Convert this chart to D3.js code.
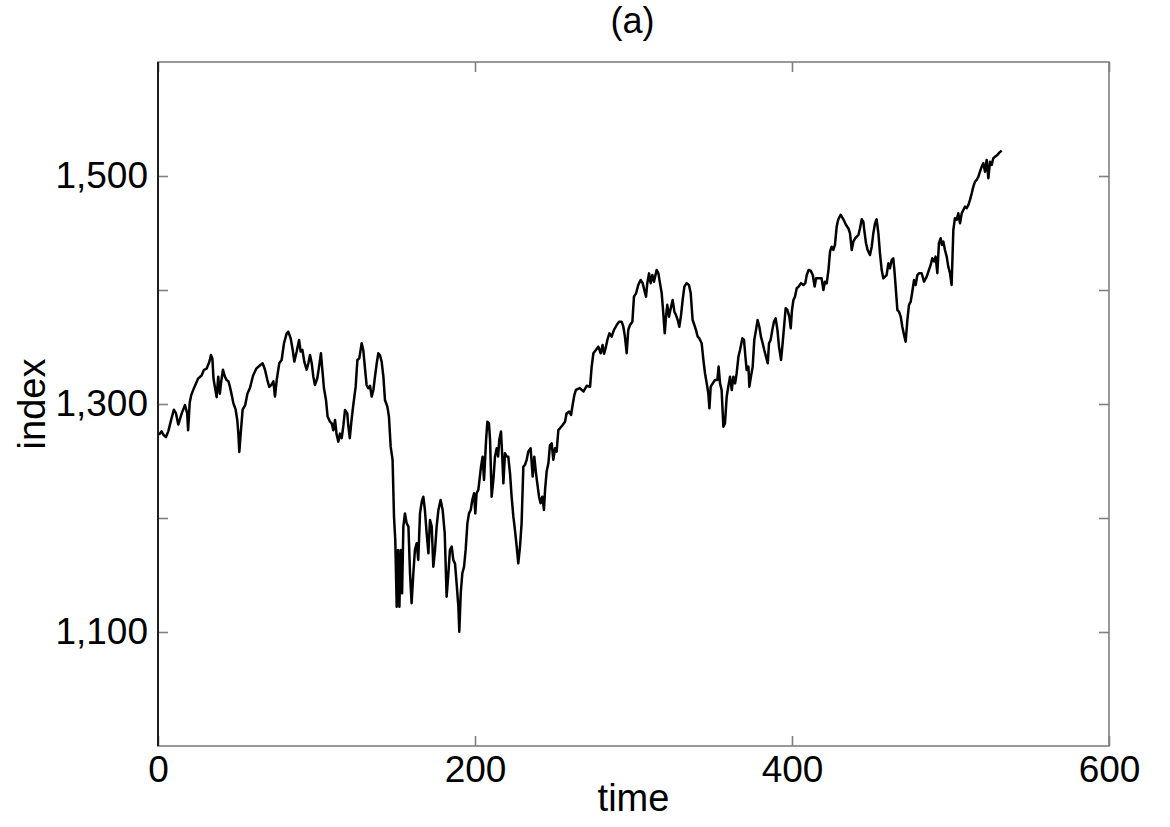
<!DOCTYPE html>
<html>
<head>
<meta charset="utf-8">
<script src="https://cdn.jsdelivr.net/npm/d3@7"></script>
<style>
  html, body { margin: 0; padding: 0; background: #fff; }
  svg { display: block; font-family: "Liberation Sans", Arial, sans-serif; }
</style>
</head>
<body>
<svg id="chart" width="1170" height="827"></svg>
<script>
// ---- data ----
const time = [
  0.6,2.3,3.4,5,6.5,8,10,11.3,12.8,15,17,18.4,19,20,21,23,25.4,27.5,29,30.7,32.4,33.4,34.3,35,36,37,38,39,40,41,42.2,43.3,44.4,45.4,46.5,47.5,49,50,50.7,51.3,52,53.4,55,56.4,58,60,62,64.4,
  66,67.5,69,70.2,71.7,72.8,73.8,74.9,76.5,78,79.5,81.2,82.2,83.7,85,86,87.5,89,90,91.1,92.3,93.8,94.9,95.9,97,98,99,100.5,101.8,102.8,103.7,104.7,106,107,108.5,109.6,110.6,111.7,112.7,113.8,114.8,115.9,117,118,119.4,120,121,122,123.2,124.7,125.8,127,128.5,129.5,130.6,131.6,132.7,133.8,134.8,135.9,136.9,138,139,140,
  141.1,142.2,143.2,144.7,145.7,146.8,147.4,148,148.9,149.7,150.6,151.4,152.3,153.1,154,154.8,155.8,156.9,158,159,160,161.1,162.1,163.2,164.2,165.3,166.4,167.4,168.4,169.5,170.6,171.6,172.7,173.7,174.8,175.8,176.9,178.3,179.6,180.9,182.1,183.2,184.2,185.3,186.3,187.4,188.4,189.5,190.1,191,192,193.1,194.1,195.2,196.2,197.3,198.3,199.4,200.2,201,202.1,
  203.8,204.8,205.7,207,207.8,208.8,209.5,210.5,211.6,212.6,213.7,214.6,215.3,216.4,217.2,217.9,218.9,220,221,222.1,223.1,224.2,225.2,226.3,227.3,228.4,229.4,230.5,231.5,232.6,233.6,235.1,236.4,237.4,238.5,239.3,240.4,241.4,242.5,243.5,244.2,245.2,246.3,247.3,248.4,249.4,250.5,251.5,252.6,253.6,255.3,256.8,257.8,259.5,260.6,261.6,262.7,263.7,266,268.5,270.5,
  272.6,273.6,274.7,276.3,277.8,279.3,280.5,281.4,282.4,283.5,284.8,286.2,287.7,289.4,290.9,292.5,293.6,294.6,295.7,296.7,297.8,299.3,300.3,301.6,303,304.5,305.8,306.8,307.9,308.7,309.8,310.8,311.9,312.9,314.6,315.7,316.7,317.8,318.8,319.7,320.5,321.3,322.4,323.5,324.7,325.8,326.8,327.9,328.9,330,331,332.1,333.5,335,336.1,337.3,338.4,339.4,340.5,341.5,
  343,344.1,345.1,346.2,347.2,347.9,348.7,350,351.4,352.9,353.7,354.6,355.6,356.7,357.7,358.8,359.8,360.9,362,363,364.1,365.1,366.2,367.2,368.7,369.7,370.8,371.4,372.5,373.1,374.1,375.2,376.2,377.3,378.3,379.4,380.4,381.5,382.5,383.6,384.7,385.5,386.5,387.6,388.6,389.7,390.8,391.8,393.1,394.1,395,396,397.1,398.3,399.2,400,400.9,401.9,403,404.2,405.7,407.2,408.4,409.3,410.5,
  411.8,413.1,414.3,415.2,416.6,418.7,419.8,420.8,421.9,423,424,425,426.1,427.1,428.2,429.2,430.7,432.4,434.1,435.6,436.6,437.7,438.7,439.8,440.8,441.9,442.9,444,445,445.6,446.7,447.7,449.2,450.3,451.3,452.4,453.4,454.5,455.5,456.6,457.6,458.7,459.7,460.8,461.8,462.9,463.9,464.6,465.4,466.5,467.5,468.6,469.6,470.7,471.7,472.8,473.8,474.9,475.9,477,478,479.1,480.1,
  481.8,483.3,485,486.4,487.5,488.5,489.6,490.6,491.7,492.7,493.8,494.6,495.5,496.5,497.6,498.6,499.7,500.7,501.8,502.8,503.9,504.9,506,507.1,508.1,509.2,510.2,511.3,512.3,513.4,514.4,515.5,516.5,517.6,518.6,519.7,520.7,521.8,522.8,523.9,524.9,526,527,528.1,529.6,530.8,532.3
];
const index = [
  1273,1276,1273,1271,1276,1284.5,1295,1292,1282,1292,1299,1292,1277,1301,1308,1315,1322.5,1325,1330,1331,1337,1343,1340,1322.5,1314,1306,1324,1309,1321,1330,1324,1321,1320,1315,1308,1301,1295,1286,1274,1258,1271,1295,1299,1309,1314,1325,1331,1334,
  1335.7,1330,1321,1315,1317,1320,1306.5,1321,1335.7,1338.6,1353.3,1362,1363.5,1357.6,1347.4,1337.2,1346,1356.2,1346,1347.5,1337.2,1330,1336,1343,1335.7,1324,1316.7,1322.6,1334.3,1344.5,1330,1313.8,1303.5,1289,1284.5,1283,1277,1286,1273,1267,1274,1270,1281.6,1294.8,1292,1281.6,1270,1284.5,1299,1315,1338.6,1340,1353.3,1347.4,1331.3,1316.7,1313.8,1316,1306.5,1312.3,1324,1335.7,1344.5,1343,
  1337.2,1324,1303.5,1297.7,1289,1262.6,1256.7,1251,1201,1180.7,1122.2,1172,1122.2,1172,1134,1192.4,1204,1195.3,1192.4,1151.5,1125.2,1151.5,1172,1177.8,1163.2,1204,1214.3,1218.7,1207,1186.6,1169,1198.3,1192.4,1157.3,1172,1192.4,1207,1215.8,1207,1186.6,1131,1151.5,1172,1175,1163.2,1160,1142.7,1122.2,1100.3,1134,1151.5,1157.3,1172,1195.3,1204,1207,1215.8,1221.7,1204,1221.7,1224.6,
  1245,1253.8,1233.4,1268.4,1284.5,1283,1268.4,1218.7,1233.4,1253.8,1261.1,1254,1268.4,1275.8,1253.8,1230.4,1256.7,1254,1253.8,1239.2,1218.7,1201.2,1189.5,1175,1160.2,1175,1195.3,1245,1246.5,1251,1258.2,1261.1,1236.3,1253.8,1239.2,1230.4,1218.7,1213,1218.7,1207,1224.6,1240.7,1248,1264,1265.5,1251,1261.1,1258.2,1277.2,1278.7,1281.6,1284.5,1291.8,1293.3,1290.4,1299.1,1308,1312.3,1314,1311,1316,
  1315.2,1332.7,1344.5,1347.4,1350.3,1344.5,1351.8,1344,1348.9,1356.2,1362,1359.1,1365,1369.3,1372.2,1372.2,1367.8,1359.1,1344.5,1365,1369.3,1372.2,1394.2,1397.1,1404.4,1408.8,1406,1400,1394.2,1406,1414.6,1406,1413.2,1407.3,1417.6,1414.6,1406,1397.1,1379.5,1362,1376.6,1387,1376.6,1384,1391.2,1381,1378,1373.7,1367.8,1378,1391.2,1403,1406,1404.4,1397.1,1373.7,1369.3,1365,1359.1,1357.6,
  1353.3,1338.6,1327,1318.1,1309.4,1296.2,1315.2,1318.1,1321,1321,1332.8,1318.1,1312.3,1280.1,1283,1306.4,1315.2,1324,1312.3,1324,1318.1,1327,1341.5,1347.4,1357.6,1356.2,1338.6,1329.8,1332.8,1315.2,1324,1332.8,1356.2,1365,1373.7,1367.8,1359.1,1353.3,1347.4,1341.5,1335.7,1353.3,1356.2,1365,1372.2,1375.1,1365,1350.3,1338.6,1353.3,1367.8,1384,1382.5,1376.6,1366.4,1382.5,1391.2,1394.2,1401.5,1403,1406,1404.4,1406,1413.2,1417.6,
  1417,1413.2,1403,1410.3,1410.2,1410.2,1400,1407.3,1405.8,1417.5,1433.6,1438,1435.1,1439.5,1455.6,1462,1466,1462,1457,1454,1449.7,1435,1442.4,1445.3,1446.8,1448.2,1454.1,1462,1460,1452.6,1441,1435.1,1430.7,1438,1449.7,1458.5,1462,1449.7,1432.2,1417.5,1410.2,1411.7,1413.1,1423.4,1419,1426.3,1427.8,1417.5,1403,1382.4,1381,1376.6,1367.8,1360.5,1354.7,1373.7,1386.8,1389.8,1398.5,1408.8,1404.4,1413.1,1414.6,
  1414.7,1407.4,1411.7,1417.6,1422,1427.8,1425,1429.3,1414.7,1441,1445.4,1439.5,1442.4,1435.1,1429.3,1420.5,1414.7,1404.4,1452.7,1463,1461.5,1467.3,1458.5,1467.3,1470.2,1473.2,1471.7,1474.6,1479,1484.8,1490.7,1495.1,1496.5,1499.5,1503.8,1508.2,1511.2,1503.8,1514.1,1498,1512.6,1509.7,1515.5,1517,1518.5,1520.5,1522.3
];
const xTicks = [0, 200, 400, 600];
const xTickLabels = ["0", "200", "400", "600"];
const yTicks = [1100, 1200, 1300, 1400, 1500];
const yTickLabels = ["1,100", "", "1,300", "", "1,500"];
const xDomain = [0, 600];
const yDomain = [1000, 1600];
const titleText = "(a)";
const xLabel = "time";
const yLabel = "index";

// ---- layout ----
const L = 158, R = 1109, T = 62, B = 746;
const svg = d3.select("#chart");
const x = d3.scaleLinear().domain(xDomain).range([L, R]);
const y = d3.scaleLinear().domain(yDomain).range([B, T]);
const FS = 37;
const LFS = 38;
const gray = "#808080";

// frame
svg.append("rect").attr("x", L).attr("y", T).attr("width", R - L).attr("height", B - T)
  .attr("fill", "none").attr("stroke", gray).attr("stroke-width", 1.6);

function styleAxis(g) {
  g.select(".domain").remove();
  g.selectAll(".tick line").attr("stroke", gray).attr("stroke-width", 1.6);
  g.selectAll(".tick text").attr("fill", "#000").attr("font-size", FS)
    .attr("font-family", '"Liberation Sans", Arial, sans-serif');
}

// bottom axis
svg.append("g").attr("transform", `translate(0,${B})`)
  .call(d3.axisBottom(x).tickValues(xTicks).tickSizeInner(-10).tickSizeOuter(0).tickPadding(10)
    .tickFormat((d, i) => xTickLabels[i]))
  .call(styleAxis);
// top axis (ticks only)
svg.append("g").attr("transform", `translate(0,${T})`)
  .call(d3.axisTop(x).tickValues(xTicks).tickSizeInner(-10).tickSizeOuter(0).tickFormat(""))
  .call(styleAxis);
// left axis
svg.append("g").attr("transform", `translate(${L},0)`)
  .call(d3.axisLeft(y).tickValues(yTicks).tickSizeInner(-10).tickSizeOuter(0).tickPadding(10)
    .tickFormat((d, i) => yTickLabels[i]))
  .call(styleAxis);
// right axis (ticks only)
svg.append("g").attr("transform", `translate(${R},0)`)
  .call(d3.axisRight(y).tickValues(yTicks).tickSizeInner(-10).tickSizeOuter(0).tickFormat(""))
  .call(styleAxis);

// left spine in black
svg.append("line").attr("x1", L).attr("x2", L).attr("y1", T).attr("y2", B)
  .attr("stroke", "#000").attr("stroke-width", 1.6);

// data line
const pts = time.map((t, i) => [t, index[i]]);
svg.append("path").datum(pts)
  .attr("fill", "none").attr("stroke", "#000").attr("stroke-width", 2.5)
  .attr("stroke-linejoin", "round")
  .attr("d", d3.line().x(d => x(d[0])).y(d => y(d[1])));

// title and labels
svg.append("text").attr("x", (L + R) / 2 - 1).attr("y", 33).attr("text-anchor", "middle")
  .attr("font-size", 36).text(titleText);
svg.append("text").attr("x", (L + R) / 2).attr("y", 811).attr("text-anchor", "middle")
  .attr("font-size", LFS).text(xLabel);
svg.append("text").attr("transform", `translate(45,${(T + B) / 2}) rotate(-90)`)
  .attr("text-anchor", "middle").attr("font-size", LFS).text(yLabel);
</script>
</body>
</html>
